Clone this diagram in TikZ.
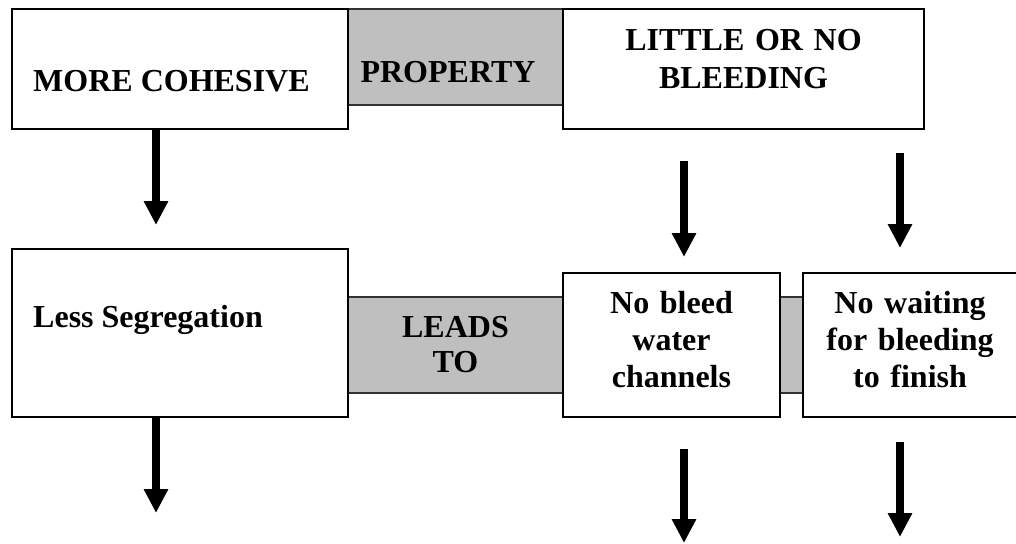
\documentclass[tikz,border=0pt]{standalone}
\usepackage{fontspec}
\setmainfont{Liberation Serif}
\usetikzlibrary{arrows.meta}
\tikzset{
  wbox/.style={draw=black, line width=2pt, fill=white, inner sep=0pt},
  gbox/.style={draw=black!80, line width=1.6pt, fill=gray!50, inner sep=0pt},
  txt/.style={font=\bfseries\fontsize{32}{37}\selectfont, inner sep=0pt, anchor=base},
  mtxt/.style={txt, text width=260pt, align=center},
  flow/.style={line width=8pt, -{Triangle[width=23pt,length=24pt]}}
}
\begin{document}
\begin{tikzpicture}[x=1pt,y=-1pt]
\useasboundingbox (0,0) rectangle (1016,543);
% gray connectors (behind)
\node[gbox, minimum width=215pt, minimum height=96pt] (P) at (455.5,57) {};
\node[gbox, minimum width=215pt, minimum height=96pt] (L) at (455.5,345) {};
\node[gbox, minimum width=23pt, minimum height=96pt] (G) at (791.5,345) {};
% white boxes
\node[wbox, minimum width=336pt, minimum height=120pt] (A) at (180,69) {};
\node[wbox, minimum width=361pt, minimum height=120pt] (B) at (743.5,69) {};
\node[wbox, minimum width=336pt, minimum height=168pt] (C) at (180,333) {};
\node[wbox, minimum width=217pt, minimum height=144pt] (D) at (671.5,345) {};
\node[wbox, minimum width=215pt, minimum height=144pt] (E) at (910.5,345) {};
% texts
\node[txt, anchor=base west] (tA) at (33,91) {MORE COHESIVE};
\node[txt] (tP) at (448,82) {PROPERTY};
\node[mtxt] (tB) at (743.5,50) {LITTLE OR NO\\[1pt]BLEEDING};
\node[txt, anchor=base west] (tC) at (33,327) {Less Segregation};
\node[mtxt, text width=200pt] (tL) at (455.5,337) {LEADS\\[-2pt]TO};
\node[mtxt, text width=210pt] (tD) at (671.5,313) {No bleed\\water\\channels};
\node[mtxt, text width=210pt] (tE) at (910,313) {No waiting\\for bleeding\\to finish};
% free ends of arrows
\coordinate (a1e) at (156,225);
\coordinate (a2s) at (684,161);
\coordinate (a2e) at (684,257);
\coordinate (a3s) at (900,153);
\coordinate (a3e) at (900,248);
\coordinate (a4e) at (156,513);
\coordinate (a5s) at (684,449);
\coordinate (a5e) at (684,543);
\coordinate (a6s) at (900,442);
\coordinate (a6e) at (900,537);
% arrows
\draw[flow] (A.south -| a1e) -- (a1e);
\draw[flow] (a2s) -- (a2e);
\draw[flow] (a3s) -- (a3e);
\draw[flow] (C.south -| a4e) -- (a4e);
\draw[flow] (a5s) -- (a5e);
\draw[flow] (a6s) -- (a6e);
\end{tikzpicture}
\end{document}
